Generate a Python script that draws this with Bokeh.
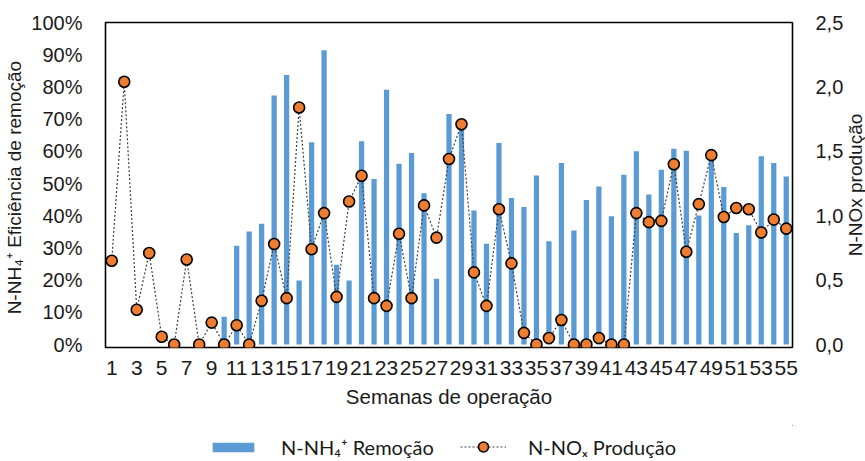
import math
from bokeh.plotting import figure
from bokeh.layouts import column, row
from bokeh.models import (Range1d, LinearAxis, FixedTicker, Legend, LegendItem,
                          ColumnDataSource)
from bokeh.core.properties import value
from bokeh.embed import file_html
from bokeh.resources import INLINE

weeks = list(range(1, 56))
removal_pct = [0, 0, 0, 0, 0, 0, 0, 0, 0, 8.6,
               30.7, 35.1, 37.5, 77.3, 83.7, 19.9, 62.8, 91.4, 24.8, 19.9,
               63.1, 51.4, 79.1, 56.1, 59.5, 47.0, 20.4, 71.6, 70.0, 41.6,
               31.3, 62.6, 45.5, 42.7, 52.5, 32.1, 56.4, 35.4, 44.9, 49.1,
               39.8, 52.7, 60.0, 46.6, 54.3, 60.8, 60.2, 40.1, 57.0, 48.9,
               34.6, 37.0, 58.5, 56.4, 52.2]
nox_prod = [0.65, 2.04, 0.27, 0.71, 0.06, 0.0, 0.66, 0.0, 0.17, 0.0,
            0.15, 0.0, 0.34, 0.78, 0.36, 1.84, 0.74, 1.02, 0.37, 1.11,
            1.31, 0.36, 0.30, 0.86, 0.36, 1.08, 0.83, 1.44, 1.71, 0.56,
            0.30, 1.05, 0.63, 0.09, 0.0, 0.05, 0.19, 0.0, 0.0, 0.05,
            0.0, 0.0, 1.02, 0.95, 0.96, 1.40, 0.72, 1.09, 1.47, 0.99,
            1.06, 1.05, 0.87, 0.97, 0.90]

x_ticks = list(range(1, 56, 2))
left_ticks = list(range(0, 101, 10))
left_labels = [f"{t}%" for t in left_ticks]
right_ticks = [0.0, 0.5, 1.0, 1.5, 2.0, 2.5]
right_labels = ["0,0", "0,5", "1,0", "1,5", "2,0", "2,5"]
right_title = "N-NOx produ\u00e7\u00e3o"

src = ColumnDataSource(dict(week=weeks, rem=removal_pct, nox=nox_prod))

FONT = "Liberation Sans"
BAR_COLOR = "#5B9BD5"
DOT_COLOR = "#ED7D31"
LINE_COLOR = "#404040"
TXT = "#1a1a1a"

# geometry
PLOT_W, PLOT_H = 687, 322
PAD_B = 3
LEFT, TOP = 105, 22
RIGHT_STRIP = 20
LEG_H = 36
FW = PLOT_W
FH = PLOT_H + PAD_B
RIGHT = 865 - RIGHT_STRIP - LEFT - FW
BOTTOM = 461 - LEG_H - TOP - FH

X0, X1 = 0.5, 55.5
y_lo = -100.0 * PAD_B / PLOT_H
r_lo = -2.5 * PAD_B / PLOT_H

p = figure(frame_width=FW, frame_height=FH, output_backend="svg",
           toolbar_location=None,
           x_range=Range1d(X0, X1), y_range=Range1d(y_lo, 100),
           min_border_left=LEFT, min_border_right=RIGHT, min_border_top=TOP,
           min_border_bottom=BOTTOM)
p.extra_y_ranges = {"nox": Range1d(r_lo, 2.5)}
p.grid.visible = False
p.outline_line_color = "black"
p.outline_line_width = 1.6
p.background_fill_color = "white"
p.border_fill_color = "white"

bars = p.vbar(x="week", top="rem", width=0.42, source=src,
              fill_color=BAR_COLOR, line_color=None)
line = p.line(x="week", y="nox", source=src, y_range_name="nox",
              line_color=LINE_COLOR, line_dash="2 2", line_width=1.2)
pts = p.scatter(x="week", y="nox", source=src, y_range_name="nox",
                size=11, fill_color=DOT_COLOR, line_color="black", line_width=1.6)

# x axis
xa = p.xaxis[0]
xa.ticker = FixedTicker(ticks=x_ticks)
xa.major_label_text_font = FONT
xa.major_label_text_font_size = "21px"
xa.major_label_text_color = TXT
xa.major_tick_line_color = None
xa.minor_tick_line_color = None
xa.axis_line_color = None
xa.major_label_standoff = 7
xa.axis_label = "Semanas de opera\u00e7\u00e3o"
xa.axis_label_text_font = FONT
xa.axis_label_text_font_size = "20.5px"
xa.axis_label_text_font_style = "normal"
xa.axis_label_text_color = TXT
xa.axis_label_standoff = 7

# left axis
ya = p.yaxis[0]
ya.ticker = FixedTicker(ticks=left_ticks)
ya.major_label_overrides = dict(zip(left_ticks, left_labels))
ya.major_label_text_font = FONT
ya.major_label_text_font_size = "20px"
ya.major_label_text_color = TXT
ya.major_tick_line_color = None
ya.minor_tick_line_color = None
ya.axis_line_color = None
ya.major_label_standoff = 17
ya.axis_label = "N-NH\u2084\u207a  Efici\u00eancia de remo\u00e7\u00e3o"
ya.axis_label_text_font = FONT
ya.axis_label_text_font_size = "19px"
ya.axis_label_text_font_style = "normal"
ya.axis_label_text_color = TXT
ya.axis_label_standoff = 3

# right axis (its title is drawn in the narrow strip to the right)
ra = LinearAxis(y_range_name="nox", ticker=FixedTicker(ticks=right_ticks))
ra.major_label_overrides = dict(zip(right_ticks, right_labels))
ra.major_label_text_font = FONT
ra.major_label_text_font_size = "20px"
ra.major_label_text_color = TXT
ra.major_tick_line_color = None
ra.minor_tick_line_color = None
ra.axis_line_color = None
ra.major_label_standoff = 17
p.add_layout(ra, "right")

# right title strip
rf = figure(frame_width=RIGHT_STRIP, frame_height=FH, output_backend="svg",
            toolbar_location=None, x_range=Range1d(0, 1), y_range=Range1d(0, 1),
            min_border_left=0, min_border_right=0, min_border_top=TOP,
            min_border_bottom=BOTTOM)
rf.axis.visible = False
rf.grid.visible = False
rf.outline_line_color = None
rf.border_fill_color = "white"
rf.background_fill_color = "white"
rf.text(x=[0.45], y=[0.5], text=[right_title], angle=math.pi / 2,
        text_align="center", text_baseline="middle", text_font=value(FONT),
        text_font_size="19px", text_color=TXT)

# legend strip under the chart; its renderers use the real data, kept out of view
lg = figure(frame_width=FW, frame_height=LEG_H, output_backend="svg",
            toolbar_location=None, x_range=Range1d(-3, -2), y_range=Range1d(-3, -2),
            min_border_left=LEFT, min_border_right=865 - LEFT - FW,
            min_border_top=0, min_border_bottom=0)
lg.axis.visible = False
lg.grid.visible = False
lg.outline_line_color = None
lg.border_fill_color = "white"
lg.background_fill_color = "white"
kb = lg.vbar(x="week", top="rem", width=0.4, source=src, fill_color=BAR_COLOR,
             line_color=None)
kl = lg.line(x="week", y="nox", source=src, line_color=LINE_COLOR, line_dash="2 2",
             line_width=1.2)
kp = lg.scatter(x="week", y="nox", source=src, size=11, fill_color=DOT_COLOR,
                line_color="black", line_width=1.6)

leg1 = Legend(items=[LegendItem(label="N-NH\u2084\u207a Remo\u00e7\u00e3o", renderers=[kb])],
              location=(207 - LEFT, 2))
leg2 = Legend(items=[LegendItem(label="N-NO\u2093 Produ\u00e7\u00e3o", renderers=[kl, kp])],
              location=(460 - LEFT, 2))
for L, gh, gw in ((leg1, 12, 52), (leg2, 25, 46)):
    L.label_text_font = "Lato"
    L.label_text_font_size = "20px"
    L.label_text_color = TXT
    L.glyph_width = gw
    L.glyph_height = gh
    L.label_standoff = 22
    L.border_line_color = None
    L.background_fill_alpha = 0
    L.padding = 0
    L.margin = 0
    lg.add_layout(L)

layout = column(row(p, rf, spacing=0), lg, spacing=0)
open("out.html", "w").write(file_html(layout, INLINE))
